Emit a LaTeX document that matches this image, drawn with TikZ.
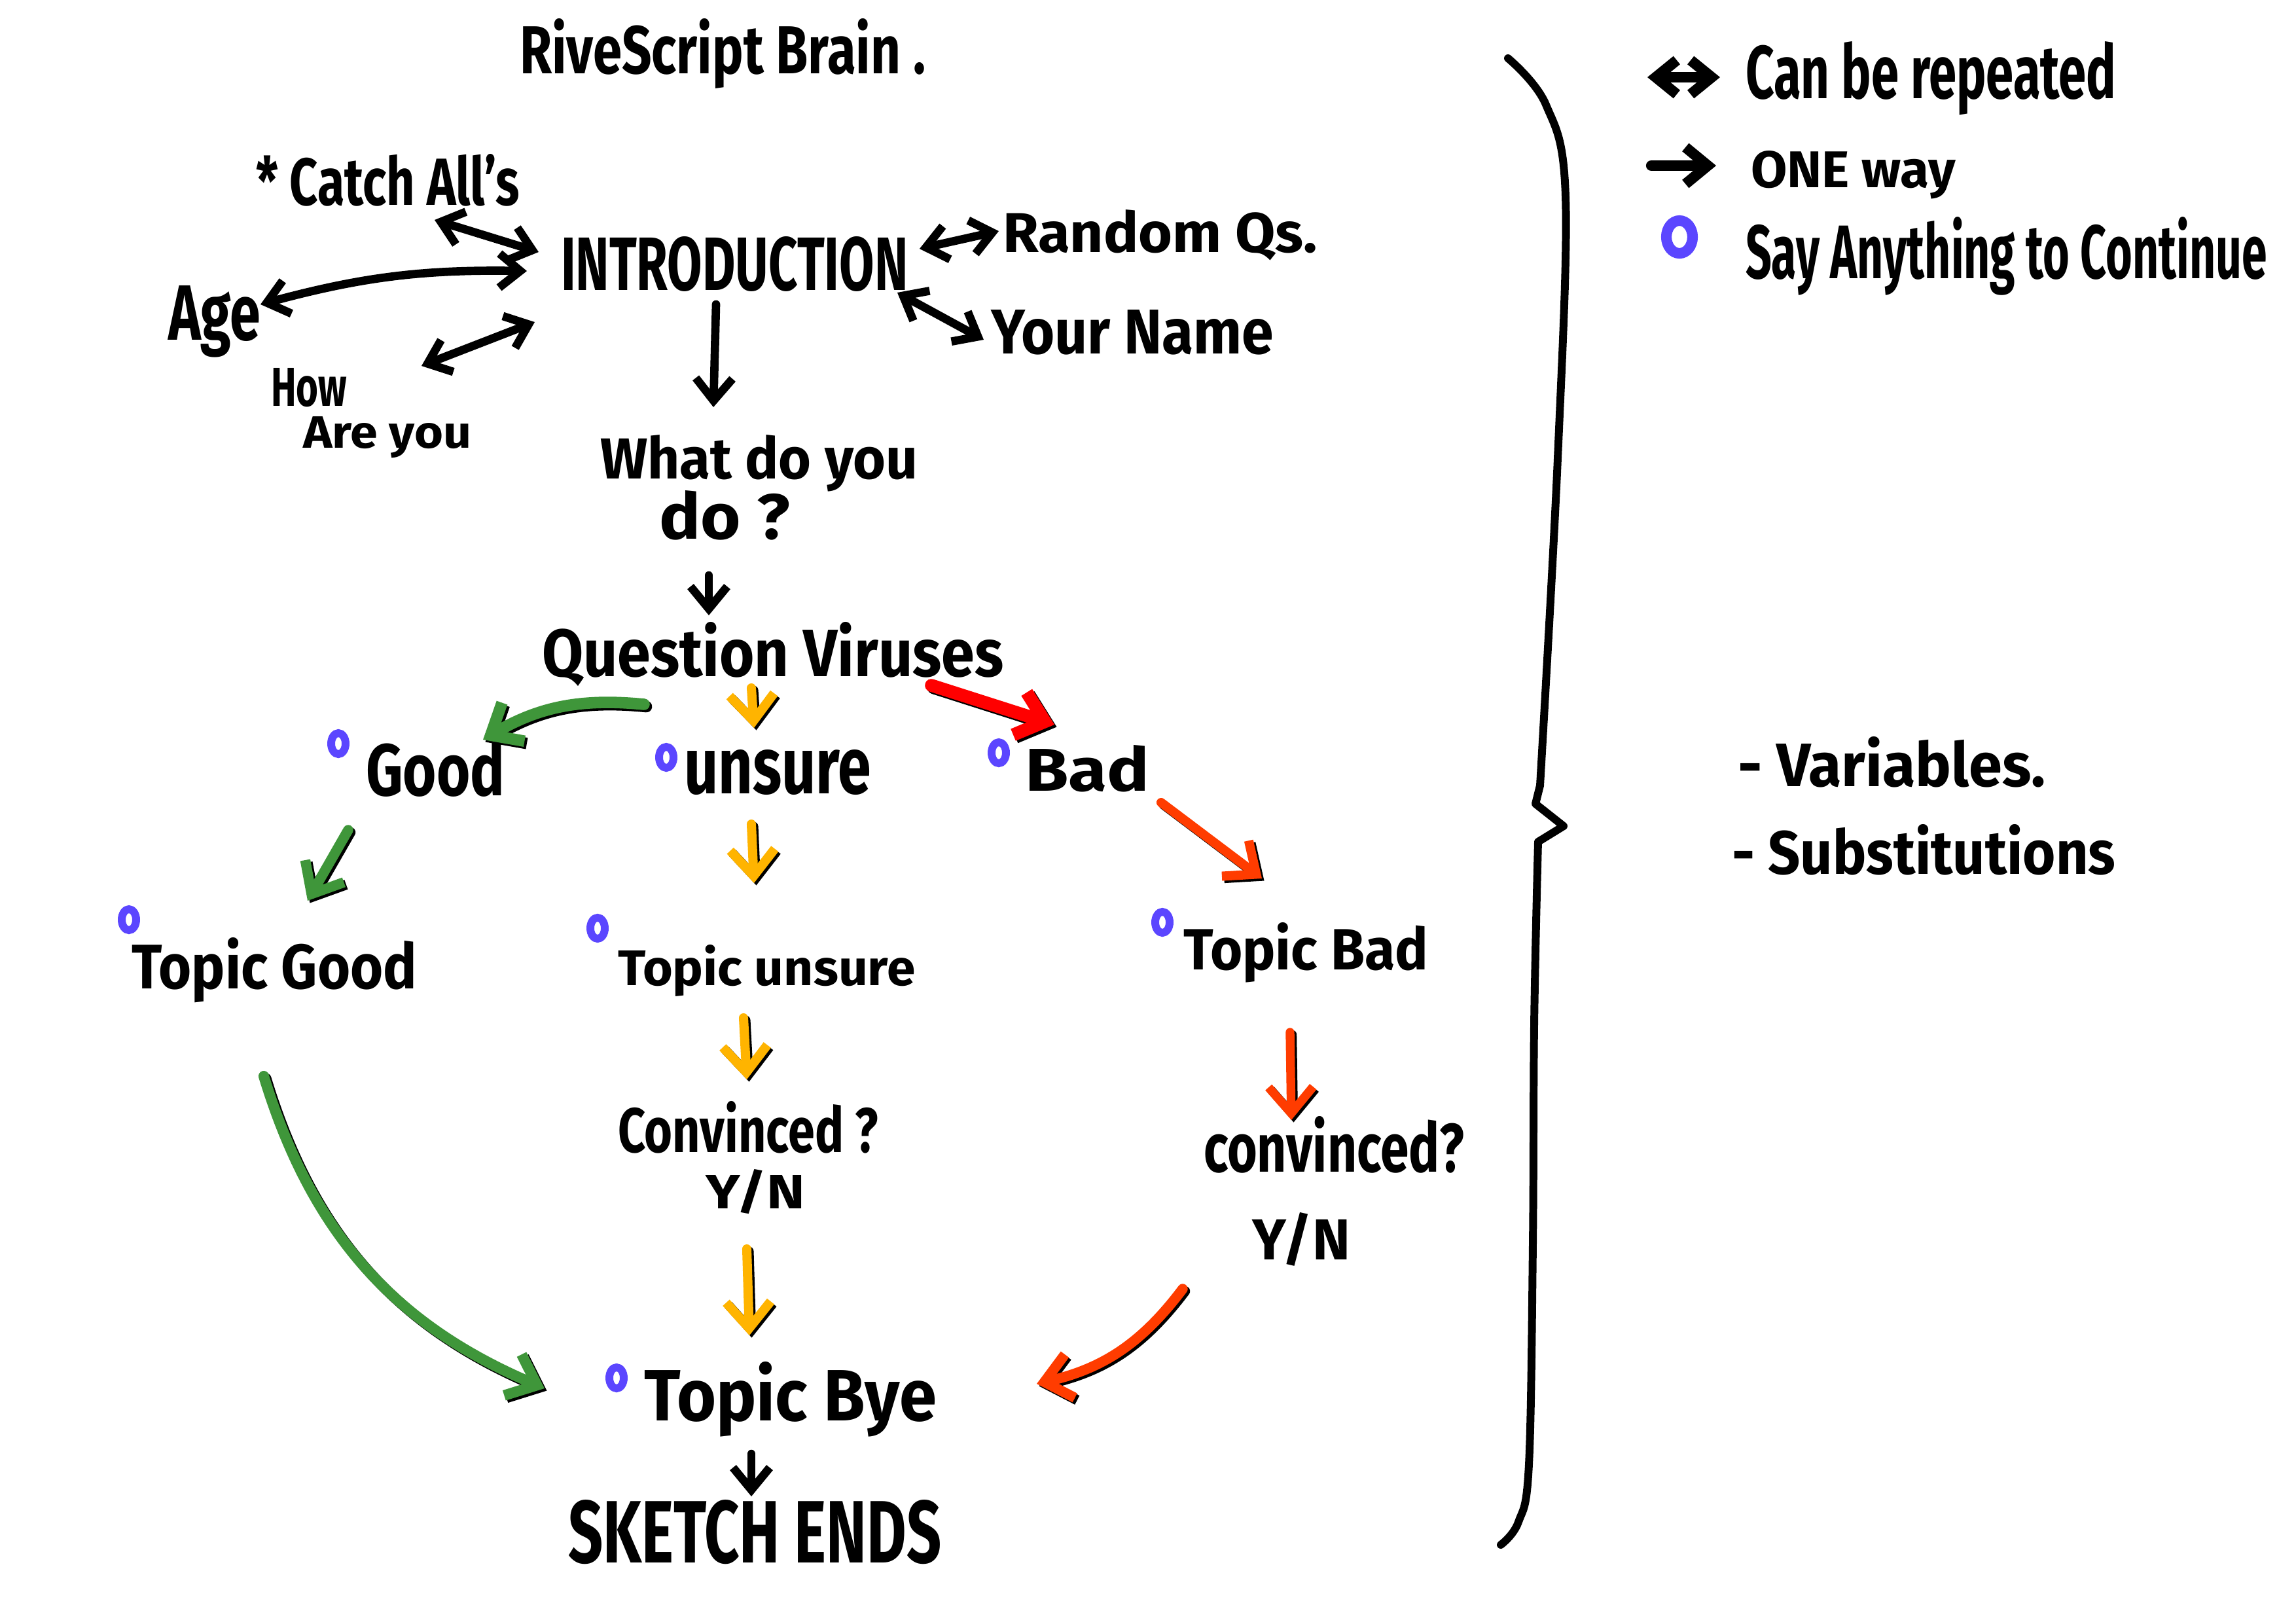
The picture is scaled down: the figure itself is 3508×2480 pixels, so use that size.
\documentclass[tikz,border=0pt]{standalone}
\usepackage{fontspec}
\usepackage{graphicx}
\newfontfamily\hand{Fira Sans}
\usetikzlibrary{arrows.meta}
\definecolor{gr}{HTML}{3F963A}
\definecolor{yl}{HTML}{FFB400}
\definecolor{rd}{HTML}{FF0000}
\definecolor{og}{HTML}{FF3C00}
\definecolor{pu}{HTML}{5B46FF}
\newcommand{\hw}[3]{\resizebox{#1cm}{#2cm}{\hand\bfseries #3}}
% coloured marker arrow with a thin black shadow: colour, width, path
\newcommand{\carrow}[3]{%
  \draw[black,line width=#2,line cap=round,line join=round,ctip,
        transform canvas={shift={(0.035cm,-0.035cm)}}] #3;
  \draw[#1,line width=#2,line cap=round,line join=round,ctip] #3;}
\begin{document}
\begin{tikzpicture}[x=0.01cm,y=-0.01cm,
  txt/.style={anchor=base west,inner sep=0pt,outer sep=0pt},
  ink/.style={line width=3.6pt,line cap=round,line join=round},
  tip/.style={-{Straight Barb[length=0.34cm,width=0.56cm]}},
  dtip/.style={{Straight Barb[length=0.32cm,width=0.52cm]}-{Straight Barb[length=0.32cm,width=0.52cm]}},
  ctip/.style={-{Straight Barb[length=0.40cm,width=0.68cm]}},
  dot/.style={draw=pu,line width=3.4pt}
]
\fill[white] (0,0) rectangle (3508,2480);
\useasboundingbox (0,0) rectangle (3508,2480);

% ---------- texts ----------
\node[txt] (title)   at (794,112)  {\hw{6.20}{0.84}{RiveScript Brain .}};
\node[txt] (catch)   at (391,313)  {\hw{4.03}{0.78}{* Catch All’s}};
\node[txt] (intro)   at (857,443)  {\hw{5.30}{0.82}{INTRODUCTION}};
\node[txt] (random)  at (1532,385) {\hw{4.81}{0.65}{Random Qs.}};
\node[txt] (name)    at (1514,540) {\hw{4.32}{0.67}{Your Name}};
\node[txt] (age)     at (257,519)  {\hw{1.41}{0.83}{Age}};
\node[txt] (how)     at (414,620)  {\hw{1.16}{0.58}{How}};
\node[txt] (areyou)  at (463,684)  {\hw{2.57}{0.48}{Are you}};
\node[txt] (what)    at (917,731)  {\hw{4.85}{0.67}{What do you}};
\node[txt] (doq)     at (1007,823) {\hw{2.00}{0.74}{do ?}};
\node[txt] (qv)      at (828,1033) {\hw{7.05}{0.83}{Question Viruses}};
\node[txt] (good)    at (559,1215) {\hw{2.12}{0.85}{Good}};
\node[txt] (unsure)  at (1045,1212){\hw{2.86}{0.67}{unsure}};
\node[txt] (bad)     at (1566,1208){\hw{1.90}{0.70}{Bad}};
\node[txt] (tgood)   at (201,1510) {\hw{4.36}{0.78}{Topic Good}};
\node[txt] (tunsure) at (944,1505) {\hw{4.54}{0.62}{Topic unsure}};
\node[txt] (tbad)    at (1808,1481){\hw{3.74}{0.72}{Topic Bad}};
\node[txt] (conv1)   at (944,1760) {\hw{3.98}{0.78}{Convinced ?}};
\node[txt] (yn1)     at (1078,1846){\hw{1.52}{0.60}{Y/N}};
\node[txt] (conv2)   at (1839,1790){\hw{3.98}{0.85}{convinced?}};
\node[txt] (yn2)     at (1913,1924){\hw{1.50}{0.72}{Y/N}};
\node[txt] (tbye)    at (984,2170) {\hw{4.47}{0.90}{Topic Bye}};
\node[txt] (ends)    at (868,2387) {\hw{5.70}{0.96}{SKETCH ENDS}};
\node[txt] (leg1)    at (2667,150) {\hw{5.66}{0.87}{Can be repeated}};
\node[txt] (leg2)    at (2675,286) {\hw{3.13}{0.56}{ONE way}};
\node[txt] (leg3)    at (2667,425) {\hw{7.96}{0.94}{Say Anything to Continue}};
\node[txt] (vars)    at (2655,1201){\hw{4.70}{0.76}{- Variables.}};
\node[txt] (subs)    at (2646,1335){\hw{5.86}{0.76}{- Substitutions}};

% ---------- purple marks ----------
\draw[dot] (517,1136) ellipse [x radius=0.11cm,y radius=0.16cm];
\draw[dot] (1018,1157) ellipse [x radius=0.11cm,y radius=0.16cm];
\draw[dot] (1526,1150) ellipse [x radius=0.11cm,y radius=0.16cm];
\draw[dot] (197,1405) ellipse [x radius=0.11cm,y radius=0.16cm];
\draw[dot] (913,1418) ellipse [x radius=0.11cm,y radius=0.16cm];
\draw[dot] (1776,1409) ellipse [x radius=0.11cm,y radius=0.16cm];
\draw[dot] (942,2105) ellipse [x radius=0.11cm,y radius=0.16cm];
\draw[dot,line width=4.6pt] (2566,362) ellipse [x radius=0.20cm,y radius=0.25cm];

% ---------- arrow end coordinates ----------
\coordinate (c1a) at (664,336);  \coordinate (c1b) at (823,385);
\coordinate (c2a) at (805,414);  \coordinate (c2b) at (398,465);
\coordinate (c3a) at (817,492);  \coordinate (c3b) at (644,559);
\coordinate (c4a) at (1405,380); \coordinate (c4b) at (1526,353);
\coordinate (c5a) at (1371,447); \coordinate (c5b) at (1503,519);
\coordinate (c6a) at (1094,465); \coordinate (c6b) at (1090,622);
\coordinate (c7a) at (1083,879); \coordinate (c7b) at (1083,940);
\coordinate (c8a) at (1148,2221);\coordinate (c8b) at (1148,2286);
\coordinate (l1a) at (2517,118); \coordinate (l1b) at (2628,118);
\coordinate (l2a) at (2523,253); \coordinate (l2b) at (2622,253);

% ---------- black arrows ----------
\draw[ink,dtip] (c1a) -- (c1b);
\draw[ink,dtip] (c2a) to[bend right=8] (c2b);
\draw[ink,dtip] (c3a) -- (c3b);
\draw[ink,dtip] (c4a) -- (c4b);
\draw[ink,dtip] (c5a) -- (c5b);
\draw[ink,tip] (c6a) -- (c6b);
\draw[ink,tip] (c7a) -- (c7b);
\draw[ink,tip] (c8a) -- (c8b);
\draw[ink,line width=4.6pt,dtip] (l1a) -- (l1b);
\draw[ink,line width=4.6pt,tip] (l2a) -- (l2b);

% ---------- coloured arrows ----------
\coordinate (g1a) at (984,1076);  \coordinate (g1b) at (738,1130);
\coordinate (y1a) at (1148,1051); \coordinate (y1b) at (1152,1112);
\coordinate (r1a) at (1423,1047); \coordinate (r1b) at (1611,1107);
\coordinate (g2a) at (532,1268);  \coordinate (g2b) at (470,1376);
\coordinate (y2a) at (1148,1259); \coordinate (y2b) at (1152,1349);
\coordinate (r2a) at (1774,1226); \coordinate (r2b) at (1928,1342);
\coordinate (y3a) at (1136,1555); \coordinate (y3b) at (1141,1649);
\coordinate (r3a) at (1971,1577); \coordinate (r3b) at (1973,1711);
\coordinate (y4a) at (1141,1908); \coordinate (y4b) at (1145,2040);
\coordinate (g3a) at (403,1644);  \coordinate (g3b) at (832,2121);
\coordinate (o4a) at (1807,1969); \coordinate (o4b) at (1584,2114);

\carrow{gr}{5pt}{(g1a) to[bend right=18] (g1b)}
\carrow{yl}{4pt}{(y1a) -- (y1b)}
\carrow{rd}{5.6pt}{(r1a) -- (r1b)}
\carrow{gr}{4.4pt}{(g2a) -- (g2b)}
\carrow{yl}{4pt}{(y2a) -- (y2b)}
\carrow{og}{4pt}{(r2a) -- (r2b)}
\carrow{yl}{4pt}{(y3a) -- (y3b)}
\carrow{og}{3.8pt}{(r3a) -- (r3b)}
\carrow{yl}{4pt}{(y4a) -- (y4b)}
\carrow{gr}{4.6pt}{(g3a) to[bend right=25] (g3b)}
\carrow{og}{4.4pt}{(o4a) to[bend left=20] (o4b)}

% ---------- brace ----------
\draw[ink,line width=3.4pt]
  plot[smooth,tension=0.6] coordinates {(2304,89) (2362,160) (2392,300) (2380,700) (2353,1200)}
  -- (2346,1228) -- (2389,1262) -- (2350,1286)
  -- plot[smooth,tension=0.6] coordinates {(2350,1286) (2344,1566) (2342,1900) (2336,2237) (2320,2325) (2293,2360)};
\end{tikzpicture}
\end{document}
